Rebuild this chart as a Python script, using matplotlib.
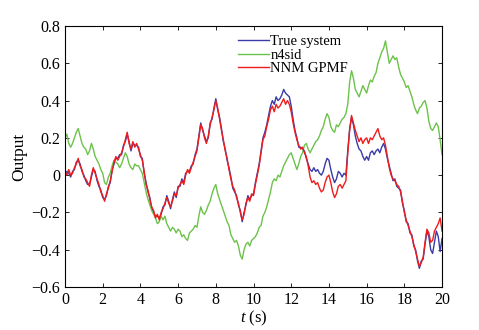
import numpy as np
import matplotlib
matplotlib.use('Agg')
import matplotlib.pyplot as plt

# time axis, sampled every 0.1 s
t = np.linspace(0, 20, 201)

# NNM GPMF estimate (red)
nnm_gpmf = [
    0.02, 0.00, 0.03, 0.00, 0.01, 0.04, 0.06, 0.09, 0.05, 0.03,
    -0.01, -0.02, -0.04, -0.06, 0.00, 0.04, 0.01, -0.02, -0.05, -0.09,
    -0.11, -0.14, -0.10, -0.07, -0.03, 0.02, 0.07, 0.10, 0.08, 0.10,
    0.12, 0.15, 0.19, 0.23, 0.17, 0.14, 0.18, 0.15, 0.17, 0.14,
    0.11, 0.08, 0.02, -0.05, -0.08, -0.13, -0.17, -0.19, -0.23, -0.21,
    -0.24, -0.20, -0.18, -0.15, -0.12, -0.15, -0.17, -0.14, -0.10, -0.11,
    -0.07, -0.05, -0.03, -0.05, 0.00, 0.03, 0.01, 0.04, 0.07, 0.10,
    0.13, 0.20, 0.27, 0.25, 0.20, 0.17, 0.21, 0.27, 0.31, 0.35,
    0.40, 0.36, 0.30, 0.24, 0.19, 0.13, 0.09, 0.03, -0.02, -0.06,
    -0.08, -0.12, -0.15, -0.20, -0.24, -0.21, -0.15, -0.12, -0.14, -0.10,
    -0.11, -0.05, 0.00, 0.05, 0.12, 0.19, 0.21, 0.26, 0.30, 0.35,
    0.37, 0.34, 0.38, 0.36, 0.37, 0.39, 0.41, 0.38, 0.40, 0.38,
    0.34, 0.28, 0.23, 0.19, 0.16, 0.14, 0.15, 0.12, 0.10, 0.05,
    -0.01, -0.04, -0.03, -0.05, -0.04, -0.07, -0.09, -0.08, -0.04, -0.01,
    0.00, -0.04, -0.09, -0.12, -0.10, -0.06, -0.05, -0.07, -0.05, -0.03,
    0.12, 0.24, 0.32, 0.28, 0.24, 0.21, 0.18, 0.20, 0.17, 0.19,
    0.20, 0.17, 0.20, 0.19, 0.21, 0.23, 0.25, 0.21, 0.19, 0.20,
    0.16, 0.10, 0.04, 0.00, -0.02, -0.03, -0.05, -0.06, -0.09, -0.14,
    -0.20, -0.24, -0.27, -0.30, -0.33, -0.37, -0.41, -0.45, -0.49, -0.47,
    -0.44, -0.36, -0.29, -0.31, -0.36, -0.35, -0.30, -0.28, -0.26, -0.23,
    -0.30,
]

# true system output (blue)
true_system = [
    0.01, 0.02, 0.01, -0.01, 0.02, 0.03, 0.07, 0.08, 0.06, 0.02,
    0.00, -0.03, -0.05, -0.05, -0.01, 0.03, 0.02, -0.03, -0.06, -0.08,
    -0.12, -0.13, -0.11, -0.06, -0.04, 0.03, 0.06, 0.09, 0.09, 0.11,
    0.11, 0.16, 0.18, 0.22, 0.18, 0.13, 0.17, 0.16, 0.16, 0.15,
    0.10, 0.09, 0.01, -0.04, -0.09, -0.12, -0.18, -0.20, -0.22, -0.22,
    -0.23, -0.21, -0.17, -0.16, -0.11, -0.14, -0.18, -0.13, -0.09, -0.12,
    -0.06, -0.06, -0.02, -0.04, 0.01, 0.02, 0.02, 0.05, 0.06, 0.11,
    0.14, 0.21, 0.28, 0.24, 0.21, 0.18, 0.20, 0.28, 0.30, 0.36,
    0.41, 0.35, 0.31, 0.25, 0.18, 0.14, 0.08, 0.04, -0.01, -0.07,
    -0.09, -0.11, -0.16, -0.19, -0.25, -0.20, -0.16, -0.11, -0.13, -0.11,
    -0.10, -0.04, 0.01, 0.06, 0.13, 0.20, 0.23, 0.27, 0.32, 0.37,
    0.40, 0.38, 0.42, 0.40, 0.41, 0.43, 0.46, 0.44, 0.43, 0.42,
    0.37, 0.30, 0.24, 0.20, 0.15, 0.15, 0.14, 0.13, 0.09, 0.06,
    0.03, 0.02, 0.04, 0.02, 0.03, 0.01, 0.00, 0.02, 0.06, 0.09,
    0.08, 0.03, -0.01, -0.04, -0.02, 0.02, 0.01, -0.01, 0.01, 0.00,
    0.13, 0.25, 0.31, 0.27, 0.21, 0.17, 0.14, 0.13, 0.10, 0.08,
    0.10, 0.08, 0.12, 0.13, 0.11, 0.13, 0.14, 0.12, 0.15, 0.17,
    0.14, 0.09, 0.05, 0.01, -0.03, -0.02, -0.06, -0.07, -0.08, -0.15,
    -0.19, -0.25, -0.26, -0.31, -0.32, -0.38, -0.40, -0.46, -0.50, -0.46,
    -0.45, -0.37, -0.30, -0.33, -0.40, -0.42, -0.36, -0.30, -0.33, -0.41,
    -0.34,
]

# n4sid estimate (green)
n4sid = [
    0.20, 0.22, 0.17, 0.15, 0.17, 0.20, 0.23, 0.25, 0.21, 0.17,
    0.15, 0.14, 0.11, 0.13, 0.17, 0.14, 0.10, 0.08, 0.06, 0.03,
    0.01, -0.04, -0.05, -0.01, 0.01, 0.05, 0.08, 0.07, 0.06, 0.04,
    0.06, 0.09, 0.12, 0.10, 0.06, 0.04, 0.03, 0.06, 0.05, 0.05,
    0.03, 0.01, -0.04, -0.09, -0.13, -0.16, -0.19, -0.21, -0.23, -0.26,
    -0.25, -0.22, -0.24, -0.22, -0.26, -0.28, -0.30, -0.28, -0.29, -0.31,
    -0.29, -0.30, -0.33, -0.32, -0.34, -0.35, -0.31, -0.30, -0.29, -0.27,
    -0.28, -0.22, -0.17, -0.20, -0.21, -0.19, -0.16, -0.14, -0.10, -0.07,
    -0.05, -0.10, -0.13, -0.16, -0.19, -0.22, -0.25, -0.27, -0.32, -0.34,
    -0.36, -0.35, -0.38, -0.43, -0.45, -0.40, -0.37, -0.36, -0.38, -0.35,
    -0.34, -0.33, -0.31, -0.28, -0.27, -0.22, -0.20, -0.17, -0.13, -0.09,
    -0.04, -0.02, -0.03, 0.00, -0.01, 0.02, 0.05, 0.07, 0.09, 0.11,
    0.12, 0.09, 0.06, 0.03, 0.06, 0.10, 0.12, 0.16, 0.17, 0.14,
    0.12, 0.14, 0.16, 0.18, 0.19, 0.21, 0.24, 0.26, 0.30, 0.33,
    0.31, 0.26, 0.24, 0.23, 0.27, 0.26, 0.28, 0.30, 0.31, 0.33,
    0.38, 0.50, 0.56, 0.52, 0.46, 0.44, 0.42, 0.45, 0.48, 0.46,
    0.44, 0.48, 0.51, 0.50, 0.53, 0.55, 0.60, 0.63, 0.66, 0.68,
    0.72, 0.66, 0.60, 0.62, 0.64, 0.62, 0.63, 0.58, 0.54, 0.52,
    0.50, 0.47, 0.48, 0.45, 0.42, 0.38, 0.35, 0.33, 0.36, 0.37,
    0.39, 0.40, 0.36, 0.29, 0.25, 0.24, 0.26, 0.28, 0.26, 0.19,
    0.11,
]

x_ticks = [0, 2, 4, 6, 8, 10, 12, 14, 16, 18, 20]
y_ticks = [-0.6, -0.4, -0.2, 0, 0.2, 0.4, 0.6, 0.8]
y_tick_labels = ['\u22120.6', '\u22120.4', '\u22120.2', '0', '0.2', '0.4', '0.6', '0.8']

plt.rcParams['font.family'] = ['Liberation Serif', 'DejaVu Serif']
plt.rcParams['mathtext.fontset'] = 'custom'
plt.rcParams['mathtext.rm'] = 'Liberation Serif'
plt.rcParams['mathtext.it'] = 'Liberation Serif:italic'

fig = plt.figure(figsize=(4.79, 3.30), dpi=100)
ax = fig.add_axes([0.1357, 0.1303, 0.7871, 0.7909])

ax.plot(t, true_system, color='#3a3aa8', linewidth=1.0, label='True system')
ax.plot(t, n4sid, color='#6cc24a', linewidth=1.0, label='n4sid')
ax.plot(t, nnm_gpmf, color='#ee1c1c', linewidth=1.0, label='NNM GPMF')

ax.set_xlim(0, 20)
ax.set_ylim(-0.6, 0.8)
ax.set_xticks(x_ticks)
ax.set_yticks(y_ticks)
ax.set_yticklabels(y_tick_labels)
ax.tick_params(direction='in', top=True, right=True, labelsize=11.5, length=3, width=0.6)
for s in ax.spines.values():
    s.set_linewidth(0.8)

ax.set_xlabel('$t$ (s)', fontsize=12, labelpad=1)
ax.set_ylabel('Output', fontsize=12.5, labelpad=3)

ax.legend(loc='upper left', bbox_to_anchor=(0.425, 1.015), frameon=False, fontsize=10.5,
          handlelength=2.1, handletextpad=0.1, labelspacing=0.0, borderpad=0.4)

fig.savefig('out.png', dpi=100)
